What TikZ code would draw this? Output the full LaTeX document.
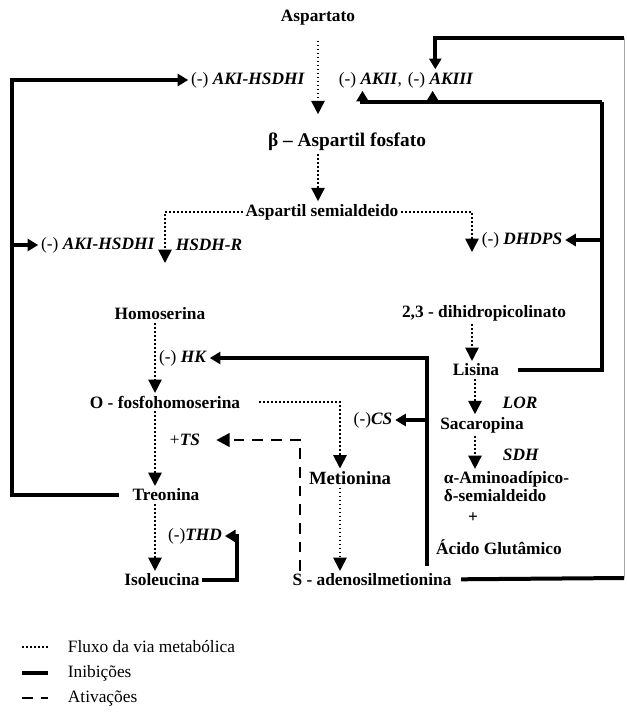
\documentclass[tikz,border=0pt]{standalone}
\usepackage{fontspec}
\setmainfont{Liberation Serif}
\usetikzlibrary{arrows.meta, positioning}

\newcommand{\enzima}[1]{\textbf{\textit{#1}}}

\begin{document}
\begin{tikzpicture}[x=0.75pt, y=-0.75pt, >={Triangle[width=9pt,length=8pt]},
    every node/.style={font=\fontsize{13}{15}\selectfont, inner sep=2pt},
    metab/.style={font=\fontsize{13}{15}\selectfont\bfseries},
    flow/.style={->, >={Triangle[width=10pt,length=10pt]}, line width=1.3pt, dash pattern=on 1.3pt off 1.7pt},
    inib/.style={line width=3pt},
    ativ/.style={line width=2.2pt, dash pattern=on 8pt off 6pt},
    faint/.style={line width=0.6pt, black!35}]
        \useasboundingbox (0,0) rectangle (626,726);

        % metabolitos e enzimas
        \node [metab] (asp) at (318,18) {Aspartato};
        \node (aki1) at (248,80) {(-) \enzima{AKI-HSDHI}};
        \node [anchor=west] (akii) at (336,80) {(-) \enzima{AKII},};
        \node [right=0pt of akii] (akiii) {(-) \enzima{AKIII}};
        \node [metab, font=\fontsize{14.5}{16}\selectfont\bfseries] (bap) at (347,142) {β – Aspartil fosfato};
        \node [metab] (asa) at (322,212) {Aspartil semialdeido};
        \node (aki2) at (98,245) {(-) \enzima{AKI-HSDHI}};
        \node (hsdhr) at (209,245) {\enzima{HSDH-R}};
        \node (dhdps) at (522,240) {(-) \enzima{DHDPS}};
        \node [metab] (hom) at (160,314) {Homoserina};
        \node [metab] (dhp) at (484,313) {2,3 - dihidropicolinato};
        \node (hk) at (183,358) {(-) \enzima{HK}};
        \node [metab] (lis) at (476,370) {Lisina};
        \node [metab] (ofh) at (165,402) {O - fosfohomoserina};
        \node (lor) at (520,403) {\enzima{LOR}};
        \node (cs) at (373,420) {(-)\enzima{CS}};
        \node [metab] (sac) at (482,425) {Sacaropina};
        \node (ts) at (185,440) {+\enzima{TS}};
        \node (sdh) at (521,455) {\enzima{SDH}};
        \node [metab, font=\fontsize{14}{16}\selectfont\bfseries] (met) at (350,478) {Metionina};
        \node [metab, font=\fontsize{13}{13.5}\selectfont\bfseries, align=left, anchor=west] (aam) at (441,487) {α-Aminoadípico-\\δ-semialdeido};
        \node [metab] (mais) at (473,518) {+};
        \node [metab] (agl) at (499,547) {Ácido Glutâmico};
        \node [metab] (tre) at (166,495) {Treonina};
        \node (thd) at (195,536) {(-)\enzima{THD}};
        \node [metab] (ile) at (162,580) {Isoleucina};
        \node [metab] (sam) at (372,580) {S - adenosilmetionina};

        % pontos de apoio
        \coordinate (hsd) at (165,263);
        \coordinate (dhd) at (472,252);
        \coordinate (ch) at (155,0);
        \coordinate (cm) at (340,402);
        \coordinate (cl) at (475,0);
        \coordinate (lc) at (12,80);
        \coordinate (rc) at (602,102);
        \coordinate (ra) at (624,578);
        \coordinate (rb) at (624,38);
        \coordinate (sb) at (427,566);
        \coordinate (tc) at (237,580);
        \coordinate (ac) at (300,440);

        % fluxo da via
        \draw [flow, shorten <=9pt, shorten >=12pt] (asp) -- (asp |- bap.north);
        \draw [flow] (asp |- bap.south) -- (asp |- asa.north);
        \draw [flow] (asa) -| (hsd);
        \draw [flow] (asa) -| (dhd);
        \draw [flow] (dhd |- dhp.south) -- (dhd |- lis.north);
        \draw [flow] (ch |- hom.south) -- (ch |- ofh.north);
        \draw [flow] (ch |- ofh.south) -- (ch |- tre.north);
        \draw [flow] (ch |- tre.south) -- (ch |- ile.north);
        \draw [flow, shorten <=12pt] (ofh) -- (cm) -- (cm |- met.north);
        \draw [flow] (cm |- met.south) -- (cm |- sam.north);
        \draw [flow] (cl |- lis.south) -- (cl |- sac.north);
        \draw [flow] (cl |- sac.south) -- (cl |- aam.north);

        % inibicoes
        \draw [inib, ->, shorten <=8pt] (tre) -| (lc) -- (aki1);
        \draw [inib, ->] (lc |- aki2) -- (aki2);
        \draw [inib, shorten <=12pt] (lis) -| (rc);
        \draw [inib, ->] (rc) -| ([xshift=-6pt]akii.south);
        \draw [inib, ->] (rc) -| ([xshift=-6pt]akiii.south);
        \draw [inib, ->] (rc |- dhdps) -- (dhdps);
        \draw [inib, shorten <=5pt] (sam) -- (ra);
        \draw [faint] (ra) -- (rb);
        \draw [inib, ->] (rb) -| ([xshift=-4pt]akiii.north);
        \draw [inib, ->] (sb) |- (hk);
        \draw [inib, ->] (sb |- cs) -- (cs);
        \draw [inib, ->] (ile) -- (tc) |- (thd);

        % ativacao
        \draw [ativ, ->, >={Triangle[width=10pt,length=10pt]}, shorten >=10pt] (ac |- sam.north) -- (ac) -- (ts);

        % legenda
        \node [anchor=west] (leg1) at (65,647) {Fluxo da via metabólica};
        \node [anchor=west] (leg2) at (65,673) {Inibições};
        \node [anchor=west] (leg3) at (65,698) {Ativações};
        \draw [flow, -] ([xshift=-32pt]leg1.west) -- ([xshift=-13pt]leg1.west);
        \draw [inib] ([xshift=-32pt]leg2.west) -- ([xshift=-13pt]leg2.west);
        \draw [ativ] ([xshift=-32pt]leg3.west) -- ([xshift=-13pt]leg3.west);
    \end{tikzpicture}
\end{document}
